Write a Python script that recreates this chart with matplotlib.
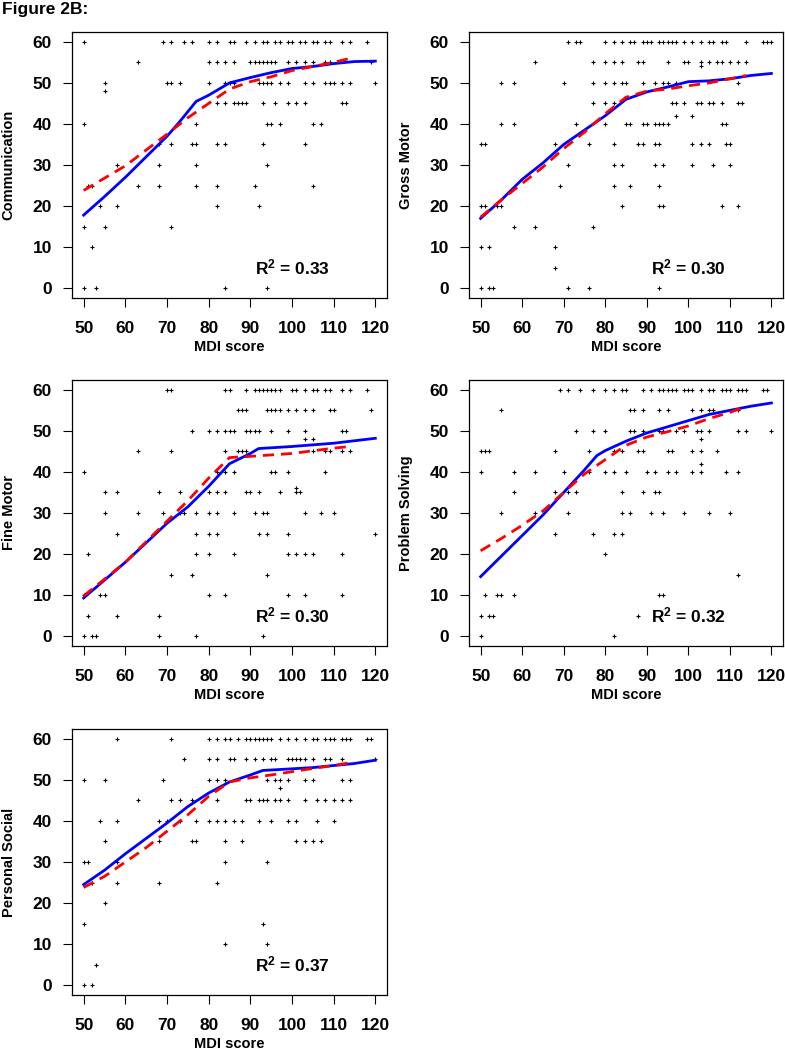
import matplotlib
matplotlib.use("Agg")
import matplotlib.pyplot as plt

plt.rcParams['font.family'] = ['Liberation Sans', 'DejaVu Sans']
plt.rcParams['font.weight'] = 'bold'
plt.rcParams['mathtext.fontset'] = 'custom'
plt.rcParams['mathtext.rm'] = 'Liberation Sans:bold'
plt.rcParams['mathtext.it'] = 'Liberation Sans:bold'
plt.rcParams['mathtext.bf'] = 'Liberation Sans:bold'

# scatter data: score level -> MDI scores with that score
comm_pts = {
    60: [50, 69, 71, 74, 76, 80, 82, 85, 86, 89, 91, 93, 94, 96, 97, 99, 100, 102, 103, 105, 106, 108, 109, 112, 114, 118],
    55: [63, 80, 82, 84, 86, 90, 91, 92, 93, 94, 95, 96, 99, 101, 103, 105, 108, 109, 119],
    50: [55, 70, 71, 73, 80, 84, 85, 86, 92, 93, 94, 95, 97, 99, 103, 105, 108, 109, 110, 112, 114, 120],
    48: [55],
    45: [82, 84, 86, 87, 88, 89, 93, 96, 99, 101, 103, 112, 113],
    40: [50, 77, 94, 95, 97, 105, 107],
    35: [68, 71, 76, 77, 82, 84, 93, 103],
    30: [58, 68, 77, 94],
    25: [51, 52, 63, 68, 77, 82, 91, 105],
    20: [54, 58, 82, 92],
    15: [50, 55, 71],
    10: [52],
    0: [50, 53, 84, 94],
}
gross_pts = {
    60: [71, 73, 74, 80, 82, 84, 86, 87, 89, 90, 91, 93, 94, 95, 96, 97, 99, 101, 103, 105, 106, 108, 109, 114, 118, 119, 120],
    55: [63, 77, 80, 82, 84, 88, 89, 95, 99, 100, 103, 105, 107, 108, 110, 112, 114],
    54: [103],
    50: [55, 58, 70, 77, 80, 82, 84, 85, 89, 92, 94, 95, 97, 112],
    45: [77, 80, 82, 96, 97, 99, 102, 103, 105, 106, 108, 112, 113],
    42: [97, 101],
    40: [55, 58, 73, 80, 85, 86, 89, 90, 92, 93, 94, 95, 108, 109],
    35: [50, 51, 68, 76, 82, 88, 89, 92, 93, 101, 103, 105, 109, 110],
    30: [71, 82, 84, 92, 94, 101, 106, 110],
    25: [69, 82, 86, 93],
    20: [50, 51, 54, 55, 84, 93, 94, 108, 112],
    15: [58, 63, 77],
    10: [50, 52, 68],
    5: [68],
    0: [50, 52, 53, 71, 76, 93],
}
fine_pts = {
    60: [70, 71, 84, 85, 89, 91, 92, 93, 94, 95, 96, 97, 100, 101, 103, 105, 106, 108, 109, 112, 114, 118],
    55: [87, 88, 89, 94, 95, 96, 97, 99, 101, 103, 105, 109, 110, 119],
    50: [76, 80, 82, 84, 85, 86, 89, 90, 91, 92, 95, 99, 103, 112, 113],
    48: [103, 105],
    45: [63, 71, 84, 87, 88, 89, 105, 108, 109, 112, 114],
    40: [50, 82, 84, 86, 95, 96, 99, 108],
    36: [101],
    35: [55, 58, 68, 73, 80, 82, 84, 89, 90, 92, 97, 101, 102],
    30: [55, 63, 69, 73, 74, 77, 80, 82, 86, 91, 93, 94, 103, 107, 110],
    25: [58, 77, 80, 82, 92, 94, 99, 120],
    20: [51, 77, 80, 86, 99, 101, 103, 105, 112],
    15: [71, 76, 94],
    10: [50, 54, 55, 80, 84, 99, 103, 112],
    5: [51, 58, 68],
    0: [50, 52, 53, 68, 77, 93],
}
prob_pts = {
    60: [69, 71, 74, 77, 80, 82, 84, 85, 89, 91, 93, 94, 95, 96, 97, 99, 100, 101, 103, 105, 106, 108, 109, 110, 112, 113, 114, 118, 119],
    55: [55, 86, 87, 89, 93, 95, 101, 103, 105, 106, 112],
    50: [73, 77, 80, 86, 87, 89, 93, 94, 97, 99, 102, 103, 105, 112, 114, 120],
    48: [103],
    45: [50, 51, 52, 68, 76, 82, 84, 88, 89, 95, 96, 101, 103, 107],
    42: [103],
    40: [50, 58, 63, 70, 76, 80, 82, 85, 90, 92, 95, 97, 101, 103, 109, 112],
    35: [58, 68, 71, 73, 84, 89, 92, 93],
    30: [55, 63, 71, 84, 86, 91, 94, 99, 105, 110],
    25: [68, 77, 82, 84],
    20: [80],
    15: [112],
    10: [51, 54, 55, 58, 93, 94],
    5: [50, 52, 53, 88],
    0: [50, 82],
}
pers_pts = {
    60: [58, 71, 80, 82, 84, 85, 87, 89, 90, 91, 92, 93, 94, 95, 97, 99, 101, 103, 105, 106, 108, 109, 110, 112, 113, 114, 118, 119],
    55: [74, 80, 82, 85, 86, 89, 91, 93, 95, 96, 99, 100, 101, 102, 103, 105, 108, 109, 112, 120],
    50: [50, 55, 69, 80, 82, 84, 94, 96, 97, 99, 103, 105, 112, 114],
    48: [97],
    45: [63, 71, 73, 76, 82, 89, 90, 92, 93, 94, 96, 97, 99, 103, 106, 108, 110, 112, 114],
    40: [54, 58, 68, 70, 73, 77, 80, 82, 84, 86, 88, 92, 95, 99, 101, 106, 110],
    35: [55, 68, 76, 77, 84, 88, 101, 103, 105, 107],
    30: [50, 51, 58, 84, 94],
    25: [52, 58, 68, 82],
    20: [55],
    15: [50, 93],
    10: [84, 94],
    5: [53],
    0: [50, 52],
}

# smooth (blue) and fitted (red dashed) curves
comm_blue_x = [50, 55, 60, 65, 70, 73, 77, 80, 85, 90, 95, 100, 105, 110, 115, 120]
comm_blue_y = [17.8, 22.3, 27, 32, 37, 40.5, 45.5, 47, 50, 51.3, 52.5, 53.5, 54, 54.7, 55.2, 55.3]
comm_red_x = [50, 60, 70, 75, 80, 85, 90, 95, 100, 105, 110, 114]
comm_red_y = [23.8, 29.8, 37.5, 41.5, 45, 48.5, 50.3, 51.5, 53, 54, 55, 56]

gross_blue_x = [50, 55, 60, 65, 70, 75, 80, 85, 90, 95, 100, 105, 110, 115, 120]
gross_blue_y = [17, 21.5, 26.5, 30.5, 35, 38.5, 42, 46, 47.8, 49, 50.3, 50.5, 51, 51.8, 52.3]
gross_red_x = [50, 55, 60, 65, 70, 75, 80, 85, 90, 95, 100, 105, 110, 114]
gross_red_y = [17.3, 21.5, 25.5, 29.5, 34, 38, 42.5, 46.5, 48, 48.5, 49.3, 50, 51, 51.8]

fine_blue_x = [50, 60, 70, 75, 80, 85, 90, 92, 100, 110, 120]
fine_blue_y = [9.3, 18, 27.5, 31.5, 36.5, 42, 44.5, 45.7, 46.2, 47, 48.2]
fine_red_x = [50, 60, 70, 75, 80, 85, 90, 100, 110, 114]
fine_red_y = [9.8, 18, 28, 33, 38.5, 43.5, 43.8, 44.5, 45.8, 46.2]

prob_blue_x = [50, 55, 60, 65, 70, 75, 78, 80, 85, 90, 95, 100, 105, 110, 115, 120]
prob_blue_y = [14.5, 19.5, 24.5, 29.5, 35, 40.5, 44, 45.2, 47.5, 49.5, 51, 52.5, 54, 55, 56, 56.8]
prob_red_x = [50, 55, 60, 65, 70, 75, 80, 85, 90, 95, 100, 105, 110, 114]
prob_red_y = [20.8, 23.8, 27, 30.5, 35, 39.5, 43, 46.5, 48.5, 49.8, 51.2, 53, 54.5, 56]

pers_blue_x = [50, 55, 60, 70, 75, 80, 85, 90, 93, 100, 105, 110, 115, 120]
pers_blue_y = [24.5, 28, 32, 39.5, 43.5, 46.8, 49.5, 51.2, 52.3, 52.7, 53, 53.5, 54, 54.8]
pers_red_x = [50, 55, 60, 65, 70, 75, 80, 85, 90, 95, 100, 105, 110, 114]
pers_red_y = [23.8, 26.5, 30, 33.5, 37.5, 41.5, 46, 49.5, 50.5, 51.2, 52, 52.8, 53.5, 54.2]

labels = ['Communication', 'Gross Motor', 'Fine Motor', 'Problem Solving', 'Personal Social']
r2 = ['0.33', '0.30', '0.30', '0.32', '0.37']

W, H = 785, 1050
fig = plt.figure(figsize=(W / 100, H / 100), dpi=100)

# axes boxes in pixels: left, top, width, height
boxes = [(72, 32, 315, 266), (469, 32, 314, 266),
         (72, 380, 315, 266), (469, 380, 314, 266),
         (72, 729, 315, 266)]

panels = [
    (comm_pts, comm_blue_x, comm_blue_y, comm_red_x, comm_red_y),
    (gross_pts, gross_blue_x, gross_blue_y, gross_red_x, gross_red_y),
    (fine_pts, fine_blue_x, fine_blue_y, fine_red_x, fine_red_y),
    (prob_pts, prob_blue_x, prob_blue_y, prob_red_x, prob_red_y),
    (pers_pts, pers_blue_x, pers_blue_y, pers_red_x, pers_red_y),
]

for i, (pts, bx, by, rx, ry) in enumerate(panels):
    l, t, w, h = boxes[i]
    ax = fig.add_axes([l / W, 1 - (t + h) / H, w / W, h / H])
    xs = [x for yv, row in pts.items() for x in row]
    ys = [yv for yv, row in pts.items() for x in row]
    ax.plot(xs, ys, linestyle='none', marker='+', color='black', markersize=3.5, markeredgewidth=0.8)
    ax.plot(bx, by, color='#0000ff', linewidth=2.0, solid_joinstyle='round')
    ax.plot(rx, ry, color='#ff0000', linewidth=2.0, linestyle=(0, (4, 2.5)))
    ax.set_xlim(47.2, 122.8)
    ax.set_ylim(-2.4, 62.4)
    ax.set_xticks([50, 60, 70, 80, 90, 100, 110, 120])
    ax.set_yticks([0, 10, 20, 30, 40, 50, 60])
    ax.tick_params(direction='out', length=6.5, width=0.8, labelsize=12.5)
    ax.tick_params(axis='x', pad=10)
    ax.tick_params(axis='y', pad=8)
    for s in ax.spines.values():
        s.set_linewidth(0.9)
    ax.set_xlabel('MDI score', fontsize=10.5, fontweight='bold', labelpad=3)
    ax.set_ylabel(labels[i], fontsize=10.5, fontweight='bold', labelpad=12)
    ax.text(100, 5, 'R$^{2}$ = ' + r2[i], ha='center', va='center', fontsize=12.5, fontweight='bold')

fig.text(0.002, 0.998, 'Figure 2B:', ha='left', va='top', fontsize=12.5, fontweight='bold')

plt.savefig('out.png', dpi=100)
